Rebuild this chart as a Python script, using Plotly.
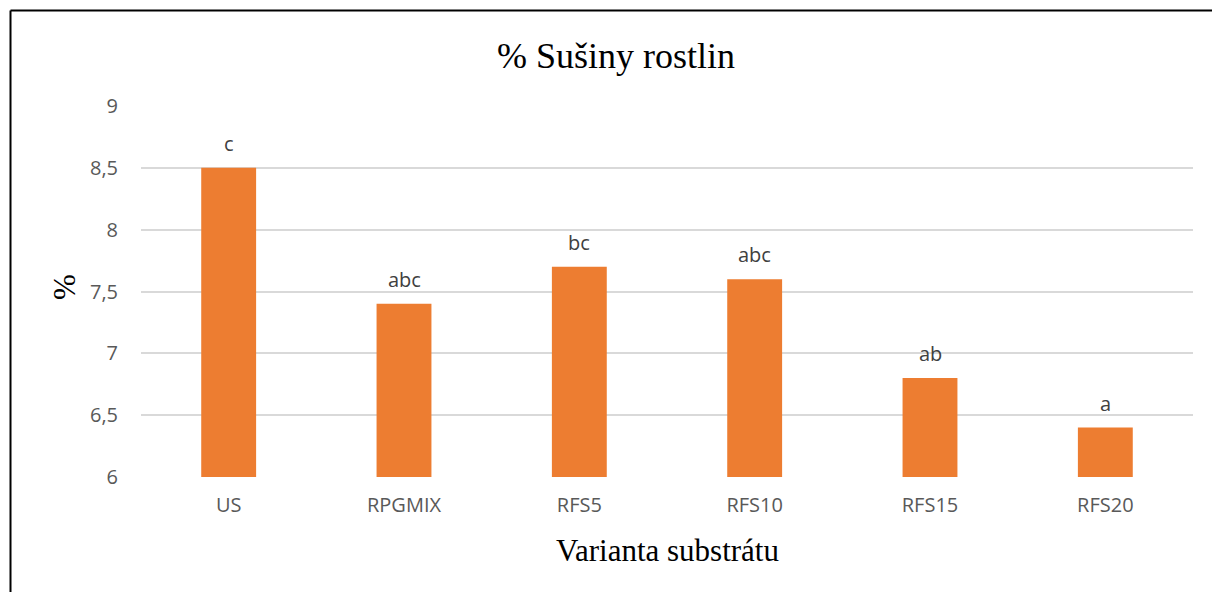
import plotly.graph_objects as go

categories = ["US", "RPGMIX", "RFS5", "RFS10", "RFS15", "RFS20"]
values = [8.5, 7.4, 7.7, 7.6, 6.8, 6.4]
letters = ["c", "abc", "bc", "abc", "ab", "a"]
y_ticks = [6, 6.5, 7, 7.5, 8, 8.5, 9]
y_ticktext = ["6", "6,5", "7", "7,5", "8", "8,5", "9"]

W, H = 1212, 592
L, R, T, B = 141, 19, 106, 115
pw, ph = W - L - R, H - T - B

fig = go.Figure()
fig.add_trace(go.Bar(
    x=categories, y=values,
    marker=dict(color="#ED7D31", line=dict(width=0)),
    width=0.313,
    hoverinfo="x+y",
))

annotations = []
for c, v, t in zip(categories, values, letters):
    annotations.append(dict(
        x=c, y=v, xref="x", yref="y", text=t, showarrow=False,
        yanchor="bottom", yshift=9,
        font=dict(family="Open Sans", size=20, color="#404040"),
    ))

# axis titles
annotations.append(dict(
    x=(667 - L) / pw, y=(H - B - 550) / ph, xref="paper", yref="paper",
    text="Varianta substrátu", showarrow=False,
    xanchor="center", yanchor="middle",
    font=dict(family="Liberation Serif", size=31, color="#000000"),
))
annotations.append(dict(
    x=(64 - L) / pw, y=(H - B - 287) / ph, xref="paper", yref="paper",
    text="%", showarrow=False, textangle=-90,
    xanchor="center", yanchor="middle",
    font=dict(family="Liberation Serif", size=31, color="#000000"),
))

# frame border (left and top lines)
bx = (10.5 - L) / pw
by = (H - B - 10.5) / ph
shapes = [
    dict(type="line", xref="paper", yref="paper", x0=bx, x1=bx, y0=by, y1=-0.5,
         line=dict(color="#000000", width=2)),
    dict(type="line", xref="paper", yref="paper", x0=bx, x1=1.2, y0=by, y1=by,
         line=dict(color="#000000", width=2)),
]

fig.update_layout(
    width=W, height=H,
    margin=dict(l=L, r=R, t=T, b=B),
    paper_bgcolor="#FFFFFF", plot_bgcolor="#FFFFFF",
    title=dict(text="% Sušiny rostlin", x=616 / W, xanchor="center",
               y=1 - 55 / H, yanchor="middle",
               font=dict(family="Liberation Serif", size=36, color="#000000")),
    showlegend=False,
    separators=",.",
    annotations=annotations,
    shapes=shapes,
    bargap=0.687,
)
fig.update_xaxes(
    showgrid=False, showline=False, zeroline=False,
    tickfont=dict(family="Open Sans", size=20, color="#595959"),
    ticks="", ticklabelstandoff=14,
)
fig.update_yaxes(
    range=[6, 9], tickvals=y_ticks, ticktext=y_ticktext,
    showgrid=True, gridcolor="#D9D9D9", gridwidth=1.5,
    zeroline=False, showline=False,
    tickfont=dict(family="Open Sans", size=20, color="#595959"),
    ticks="", ticklabelstandoff=22,
)
fig.write_html(
    "out.html",
    config={"displayModeBar": False},
    post_script="document.body.style.margin='0';document.body.style.overflow='hidden';",
)
